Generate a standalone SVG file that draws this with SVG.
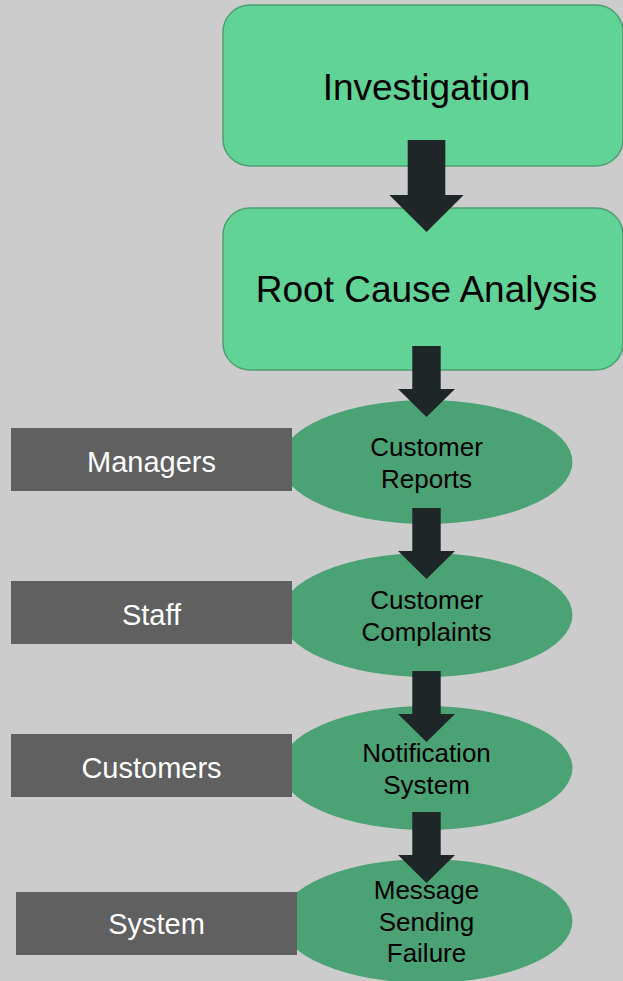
<svg xmlns="http://www.w3.org/2000/svg" width="623" height="981" viewBox="0 0 623 981">
  <style>
    .step { fill: #62d397; stroke: #4e9f72; stroke-width: 1.5; }
    .stepText { font-family: "Liberation Sans", Arial, sans-serif; font-size: 37px; fill: #000; text-anchor: middle; }
    .oval { fill: #4aa275; }
    .ovalText { font-family: "Liberation Sans", Arial, sans-serif; font-size: 26px; fill: #000; text-anchor: middle; }
    .actor { fill: #606060; }
    .actorText { font-family: "Liberation Sans", Arial, sans-serif; font-size: 29px; fill: #fff; text-anchor: middle; }
    .arrow { fill: #1f2628; }
  </style>
  <defs>
    <polygon id="smallArrow" points="-14.2,0 14.2,0 14.2,43 28.5,43 0,71 -28.5,43 -14.2,43"/>
  </defs>
  <rect x="0" y="0" width="623" height="981" fill="#cccccc"/>

  <g id="investigation">
    <rect class="step" x="223" y="5" width="400" height="161" rx="27" ry="27"/>
    <text class="stepText" x="426.5" y="100">Investigation</text>
  </g>
  <g id="root-cause-analysis">
    <rect class="step" x="223" y="208" width="400" height="162" rx="27" ry="27"/>
    <text class="stepText" x="426.5" y="302">Root Cause Analysis</text>
  </g>

  <g id="customer-reports">
    <ellipse class="oval" cx="426.5" cy="462" rx="146" ry="62"/>
    <text class="ovalText" x="426.5" y="456">Customer</text>
    <text class="ovalText" x="426.5" y="487.7">Reports</text>
  </g>
  <g id="customer-complaints">
    <ellipse class="oval" cx="426.5" cy="615" rx="146" ry="62"/>
    <text class="ovalText" x="426.5" y="609">Customer</text>
    <text class="ovalText" x="426.5" y="640.7">Complaints</text>
  </g>
  <g id="notification-system">
    <ellipse class="oval" cx="426.5" cy="768" rx="146" ry="62"/>
    <text class="ovalText" x="426.5" y="762">Notification</text>
    <text class="ovalText" x="426.5" y="793.7">System</text>
  </g>
  <g id="message-sending-failure">
    <ellipse class="oval" cx="426.5" cy="921" rx="146" ry="62"/>
    <text class="ovalText" x="426.5" y="899">Message</text>
    <text class="ovalText" x="426.5" y="930.7">Sending</text>
    <text class="ovalText" x="426.5" y="961.7">Failure</text>
  </g>

  <g id="managers">
    <rect class="actor" x="11" y="428" width="281" height="63"/>
    <text class="actorText" x="151.5" y="471.7">Managers</text>
  </g>
  <g id="staff">
    <rect class="actor" x="11" y="581" width="281" height="63"/>
    <text class="actorText" x="151.5" y="624.7">Staff</text>
  </g>
  <g id="customers">
    <rect class="actor" x="11" y="734" width="281" height="63"/>
    <text class="actorText" x="151.5" y="777.7">Customers</text>
  </g>
  <g id="system">
    <rect class="actor" x="16" y="892" width="281" height="63"/>
    <text class="actorText" x="156.5" y="934">System</text>
  </g>

  <g id="connectors">
    <polygon class="arrow" points="407.7,140 445.3,140 445.3,195 463.7,195 426.5,232 389.3,195 407.7,195"/>
    <use href="#smallArrow" class="arrow" x="426.5" y="346"/>
    <use href="#smallArrow" class="arrow" x="426.5" y="508"/>
    <use href="#smallArrow" class="arrow" x="426.5" y="671"/>
    <use href="#smallArrow" class="arrow" x="426.5" y="812"/>
  </g>
</svg>
